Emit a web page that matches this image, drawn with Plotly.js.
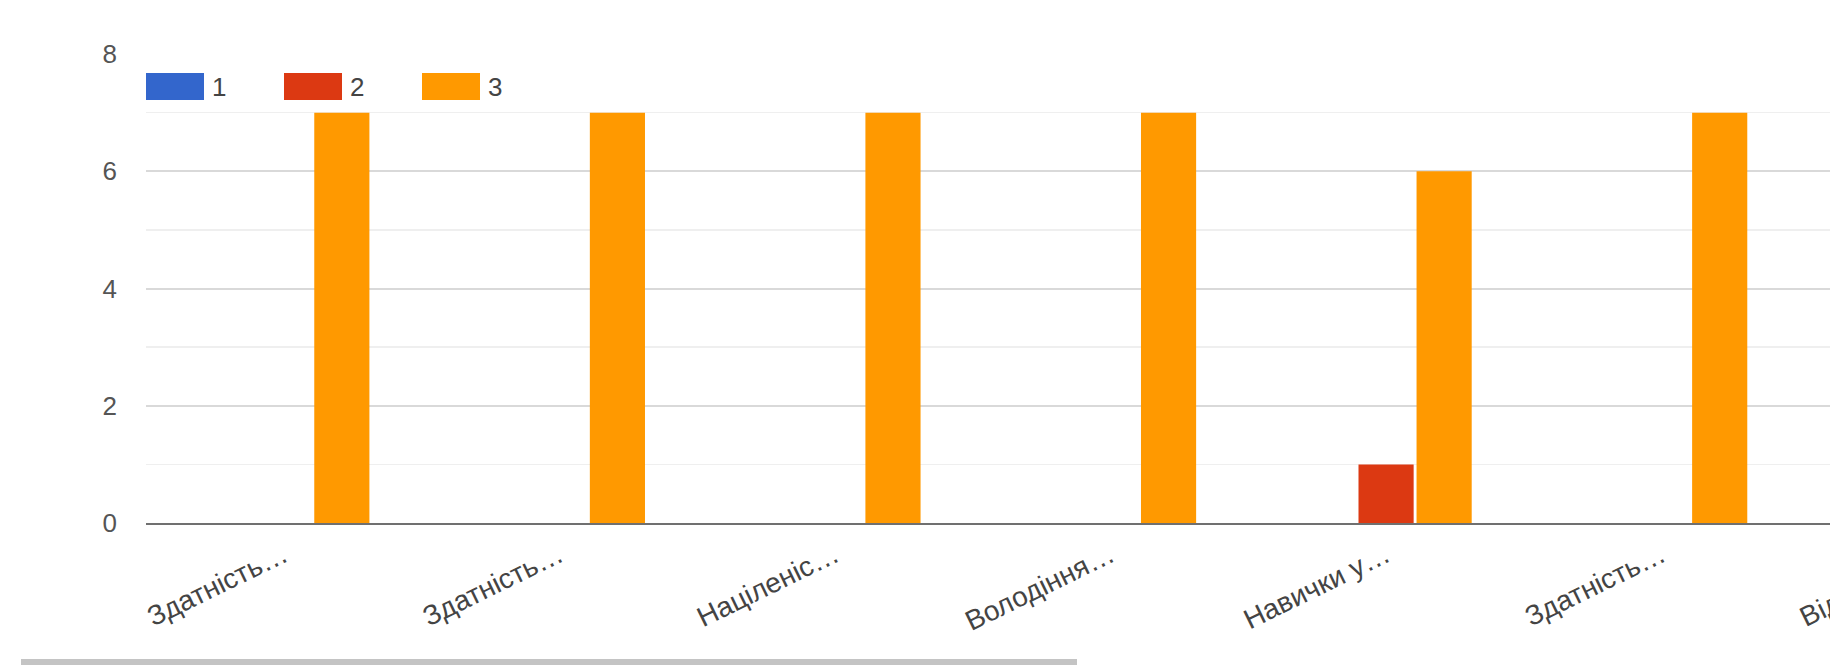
<!DOCTYPE html>
<html>
<head>
<meta charset="utf-8">
<script src="https://cdn.plot.ly/plotly-3.0.1.min.js"></script>
<style>
  html, body { margin: 0; padding: 0; background: #fff; width: 1830px; height: 665px; overflow: hidden; }
  #chart { position: absolute; left: 0; top: 0; }
  #scroll { position: absolute; left: 21px; top: 659px; width: 1056px; height: 6px; background: #c4c4c4; }
</style>
</head>
<body>
<div id="chart"></div>
<div id="scroll"></div>
<script>
// ---- data ----
const categories = ["Здатність…", "Здатність…", "Націленіс…", "Володіння…", "Навички у…", "Здатність…", "Відповіда…"];
const seriesNames = ["1", "2", "3"];
const series1 = [0, 0, 0, 0, 0, 0, 0];
const series2 = [0, 0, 0, 0, 1, 0, 0];
const series3 = [7, 7, 7, 7, 6, 7, 7];
const yTicks = [0, 2, 4, 6, 8];
const colors = ["#3366cc", "#dc3912", "#ff9900"];

const xIdx = categories.map((_, i) => i);
const allSeries = [series1, series2, series3];

const traces = allSeries.map((vals, k) => ({
  type: "bar",
  x: xIdx,
  y: vals,
  name: seriesNames[k],
  marker: { color: colors[k], line: { width: 0 } },
  hoverinfo: "skip"
}));

const FONT = "Arial, 'Liberation Sans', sans-serif";
const shapes = [];
const annotations = [];
seriesNames.forEach((nm, k) => {
  const off = k * 138;
  shapes.push({
    type: "rect", xref: "paper", yref: "paper",
    xsizemode: "pixel", ysizemode: "pixel",
    xanchor: 0, yanchor: 1,
    x0: off, x1: off + 58, y0: -19, y1: -46,
    fillcolor: colors[k], line: { width: 0 }, layer: "above"
  });
  annotations.push({
    xref: "paper", yref: "paper", x: 0, y: 1,
    xshift: off + 64, yshift: -32.5,
    xanchor: "left", yanchor: "middle",
    text: nm, showarrow: false,
    font: { family: FONT, size: 26, color: "#444" }
  });
});

const catW = 275.5;
const plotLeft = 146;
const W = Math.round(plotLeft + catW * categories.length);

const layout = {
  width: W, height: 665,
  margin: { l: plotLeft, r: 0, t: 54, b: 142 },
  paper_bgcolor: "#fff", plot_bgcolor: "#fff",
  showlegend: false,
  barmode: "group",
  bargap: 0.368,
  bargroupgap: 0.05,
  font: { family: FONT, size: 26, color: "#555" },
  xaxis: {
    type: "linear",
    range: [-0.5, categories.length - 0.5],
    tickmode: "array", tickvals: xIdx, ticktext: categories,
    tickangle: -26,
    ticks: "", showgrid: false, zeroline: false,
    showline: true, linecolor: "#707070", linewidth: 2, layer: "above traces",
    tickfont: { family: FONT, size: 28, color: "#444" },
    ticklabelstandoff: 3,
    fixedrange: true
  },
  yaxis: {
    range: [0, 8],
    tickmode: "array", tickvals: yTicks,
    ticks: "", showgrid: true, gridcolor: "#d9d9d9", gridwidth: 2,
    minor: { dtick: 1, showgrid: true, gridcolor: "#efefef", gridwidth: 1.5 },
    zeroline: false, showline: false,
    tickfont: { family: FONT, size: 26, color: "#555" },
    ticklabelstandoff: 28,
    fixedrange: true
  },
  shapes: shapes,
  annotations: annotations
};

Plotly.newPlot("chart", traces, layout, { displayModeBar: false, staticPlot: true });
</script>
</body>
</html>
